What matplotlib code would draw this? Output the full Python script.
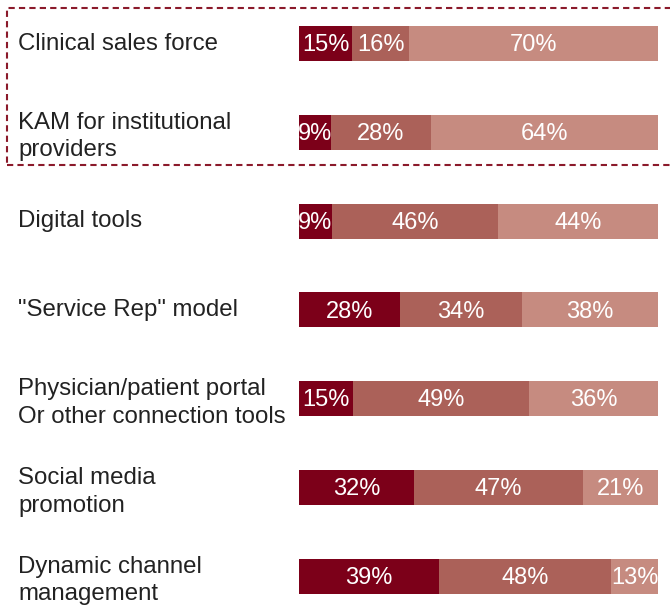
import matplotlib
matplotlib.use("Agg")
import matplotlib.pyplot as plt
import matplotlib.transforms as mtransforms
from matplotlib.patches import Rectangle
import numpy as np

plt.rcParams["font.family"] = ["Liberation Sans", "DejaVu Sans"]

channels = [
    "Clinical sales force",
    "KAM for institutional\nproviders",
    "Digital tools",
    "\"Service Rep\" model",
    "Physician/patient portal\nOr other connection tools",
    "Social media\npromotion",
    "Dynamic channel\nmanagement",
]
low = [15, 9, 9, 28, 15, 32, 39]
mid = [16, 28, 46, 34, 49, 47, 48]
high = [70, 64, 44, 38, 36, 21, 13]

colors = ["#7c0019", "#ab6159", "#c68b80"]

W, H = 670, 605
fig = plt.figure(figsize=(W / 100, H / 100), dpi=100)

# bar area in pixel terms: x 299..658, row pitch ~88.8 px starting at 43.5
pitch = 88.8
first = 43.5
ax = fig.add_axes([299 / W, 0, 359 / W, 1])
ax.set_xlim(0, 1)
ax.set_ylim((H - first) / pitch, -first / pitch)
ax.axis("off")

segs = np.array([low, mid, high], dtype=float)
shares = segs / segs.sum(axis=0)
y = np.arange(len(channels))
left = np.zeros(len(channels))
for k in range(3):
    ax.barh(y, shares[k], left=left, height=35 / pitch, color=colors[k],
            linewidth=0)
    for i in range(len(channels)):
        ax.text(left[i] + shares[k][i] / 2, y[i] + 0.02, "%d%%" % segs[k][i],
                ha="center", va="center", color="white", fontsize=17)
    left += shares[k]

# category labels at fixed figure x, row y in data coords
trans = mtransforms.blended_transform_factory(fig.transFigure, ax.transData)
for i, name in enumerate(channels):
    off = 0.05 if "\n" in name else 0.0
    ax.text(18 / W, y[i] + off, name, transform=trans, ha="left", va="center",
            color="#222222", fontsize=17.3, linespacing=1.32, clip_on=False)

# dashed box around the first two channels
box = Rectangle((7 / W, 1 - 165 / H), (W + 60) / W, (165 - 8) / H,
                transform=fig.transFigure, fill=False, edgecolor="#8b1a2b",
                linewidth=1.5, linestyle=(0, (3, 2)), clip_on=False)
fig.patches.append(box)

fig.savefig("out.png", dpi=100)
